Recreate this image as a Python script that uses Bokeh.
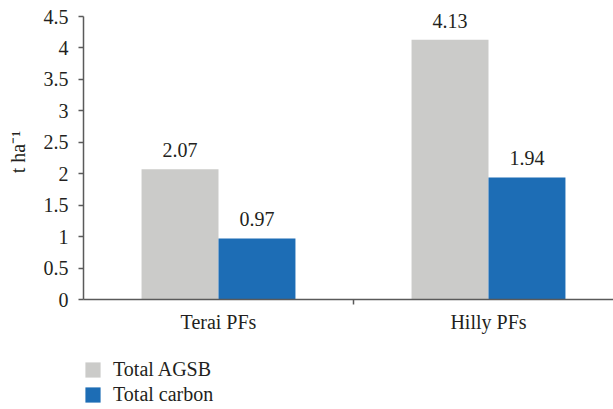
from bokeh.plotting import figure
from bokeh.layouts import column
from bokeh.models import ColumnDataSource, FixedTicker, Legend, LegendItem, Range1d
from bokeh.embed import file_html
from bokeh.resources import INLINE
from bokeh.core.properties import value

categories = ["Terai PFs", "Hilly PFs"]
total_agsb = [2.07, 4.13]
total_carbon = [0.97, 1.94]
y_ticks = [0, 0.5, 1, 1.5, 2, 2.5, 3, 3.5, 4, 4.5]
series_names = ["Total AGSB", "Total carbon"]

GRAY = "#cbcbc9"
BLUE = "#1d6db5"
TEXT = "#231f20"
AXIS = "#5a5a5a"
FONT = "'Liberation Serif', serif"
FS = "20px"

centers = [i + 0.5 for i in range(len(categories))]
bw = 0.285
x_agsb = [c - bw / 2 for c in centers]
x_carb = [c + bw / 2 for c in centers]

# frame extends 12px above the 4.5 tick so the top value label is not clipped
FRAME_H = 295
y_top = y_ticks[-1] * FRAME_H / 283

p = figure(frame_width=530, frame_height=FRAME_H, output_backend="svg", toolbar_location=None,
           x_range=Range1d(0, 530 / 270), y_range=Range1d(0, y_top),
           min_border_left=83, min_border_top=4, min_border_right=0,
           min_border_bottom=41)
p.outline_line_color = None
p.xgrid.grid_line_color = None
p.ygrid.grid_line_color = None
p.background_fill_color = "white"
p.border_fill_color = "white"

src_a = ColumnDataSource(dict(x=x_agsb, top=total_agsb,
                              lab=[f"{v:.2f}" for v in total_agsb]))
src_c = ColumnDataSource(dict(x=x_carb, top=total_carbon,
                              lab=[f"{v:.2f}" for v in total_carbon]))

ra = p.vbar(x="x", top="top", width=bw, source=src_a, fill_color=GRAY, line_color=None)
rc = p.vbar(x="x", top="top", width=bw, source=src_c, fill_color=BLUE, line_color=None)

for src in (src_a, src_c):
    p.text(x="x", y="top", text="lab", source=src, text_align="center",
           text_baseline="alphabetic", y_offset=-19, text_font=value(FONT),
           text_font_size=FS, text_color=TEXT)

# y axis
ya = p.yaxis[0]
ya.ticker = FixedTicker(ticks=y_ticks)
ya.bounds = (y_ticks[0], y_ticks[-1])
ya.major_label_overrides = {t: (f"{t:g}") for t in y_ticks}
ya.axis_label = "t ha⁻¹"
ya.axis_label_text_font = FONT
ya.axis_label_text_font_style = "normal"
ya.axis_label_text_font_size = FS
ya.axis_label_text_color = TEXT
ya.axis_label_standoff = 12
ya.major_label_text_font = FONT
ya.major_label_text_font_size = FS
ya.major_label_text_color = TEXT
ya.major_label_standoff = 10
ya.axis_line_color = AXIS
ya.axis_line_width = 1.5
ya.major_tick_line_color = AXIS
ya.major_tick_line_width = 1.5
ya.major_tick_out = 5
ya.major_tick_in = 0
ya.minor_tick_line_color = None

# x axis
xa = p.xaxis[0]
xa.ticker = FixedTicker(ticks=centers, minor_ticks=[1.0])
xa.major_label_overrides = {c: n for c, n in zip(centers, categories)}
xa.major_label_text_font = FONT
xa.major_label_text_font_size = FS
xa.major_label_text_color = TEXT
xa.major_label_standoff = 6
xa.major_tick_line_color = None
xa.major_tick_out = 0
xa.major_tick_in = 0
xa.minor_tick_line_color = AXIS
xa.minor_tick_line_width = 1.5
xa.minor_tick_out = 5
xa.minor_tick_in = 0
xa.axis_line_color = AXIS
xa.axis_line_width = 1.5

# legend strip below the chart (its proxy bars lie outside its visible range)
q = figure(width=613, height=68, output_backend="svg", toolbar_location=None,
           x_range=Range1d(100, 101), y_range=Range1d(100, 101),
           x_axis_location=None, y_axis_location=None,
           min_border_left=83, min_border_top=18, min_border_right=0,
           min_border_bottom=0)
q.outline_line_color = None
q.xgrid.grid_line_color = None
q.ygrid.grid_line_color = None
q.border_fill_color = "white"
la = q.vbar(x="x", top="top", width=bw, source=ColumnDataSource(dict(x=x_agsb, top=total_agsb)),
            fill_color=GRAY, line_color=None)
lc = q.vbar(x="x", top="top", width=bw, source=ColumnDataSource(dict(x=x_carb, top=total_carbon)),
            fill_color=BLUE, line_color=None)

legend = Legend(items=[LegendItem(label=series_names[0], renderers=[la]),
                       LegendItem(label=series_names[1], renderers=[lc])],
                orientation="vertical", location="top_left",
                label_text_font=FONT, label_text_font_size=FS,
                label_text_color=TEXT, glyph_width=19, glyph_height=19,
                spacing=2, padding=0, margin=0, label_standoff=11,
                border_line_color=None, background_fill_alpha=0)
q.add_layout(legend, "center")

layout = column(p, q, spacing=0)
open("out.html", "w").write(file_html(layout, INLINE))
